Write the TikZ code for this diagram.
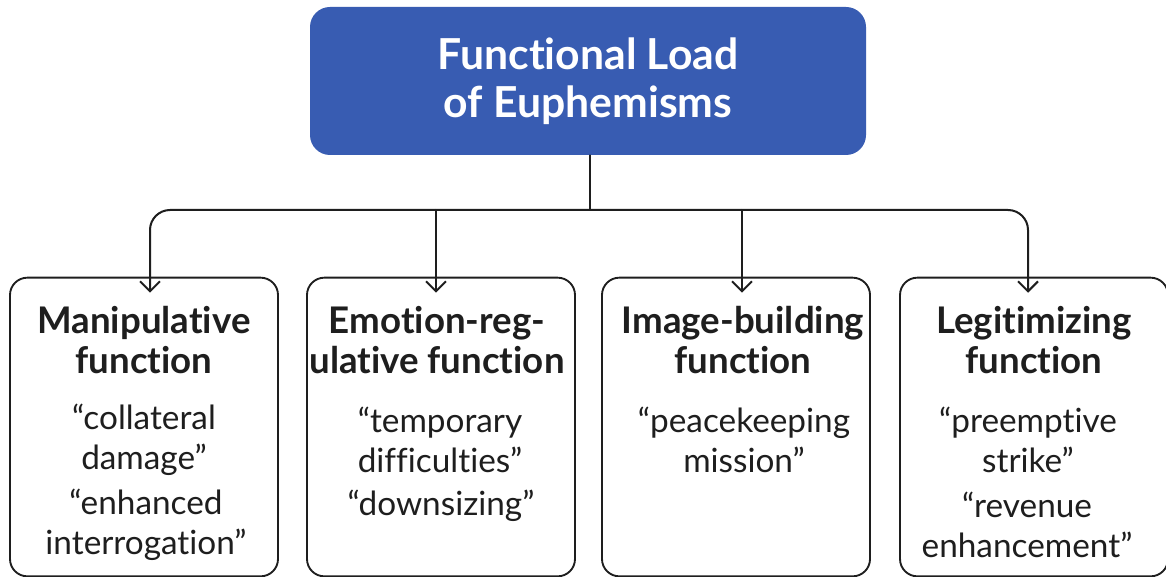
\documentclass[tikz,border=0pt]{standalone}
\usepackage{fontspec}
\setmainfont{Lato}[Ligatures=NoCommon]
\usetikzlibrary{arrows.meta,positioning}
\definecolor{titleblue}{RGB}{56,92,178}
\definecolor{inkgray}{RGB}{30,30,30}

\begin{document}
\begin{tikzpicture}[x=0.75pt,y=-0.75pt,
  >={Straight Barb[length=7.5pt,width=15pt,line width=1.5pt]},
  line cap=round,
  wire/.style={draw=inkgray,line width=1.5pt},
  titlebox/.style={fill=titleblue,rounded corners=15pt,minimum width=417pt,minimum height=111pt,inner sep=0pt},
  funcbox/.style={draw=inkgray,line width=1.4pt,rounded corners=13pt,minimum width=201pt,minimum height=224pt,inner sep=0pt},
  headtxt/.style={font=\fontsize{27.5}{30}\selectfont\bfseries,text=inkgray,align=center,inner sep=0pt},
  exampletxt/.style={font=\fontsize{25}{30}\selectfont,text=inkgray,align=center,inner sep=0pt}]
\useasboundingbox[fill=white] (0,0) rectangle (1166,577);

\node[titlebox] (title) at (588,81) {};
\node[text=white,font=\fontsize{32}{36}\selectfont\bfseries,align=center] (titletxt) at (title.center) {Functional Load\\of Euphemisms};

\node[funcbox] (f1) at (144,427) {};
\node[funcbox] (f2) at (441,427) {};
\node[funcbox] (f3) at (736,427) {};
\node[funcbox] (f4) at (1034,427) {};

\node[headtxt] (h1) at (144,340) {Manipulative\\function};
\node[headtxt] (h2) at (437,340) {Emotion-reg-\\ulative function};
\node[headtxt] (h3) at (743,340) {Image-building\\function};
\node[headtxt] (h4) at (1034,340) {Legitimizing\\function};

\node[exampletxt] (e1a) at (144,440) {“collateral\\damage”};
\node[exampletxt] (e1b) at (146,525) {“enhanced\\interrogation”};
\node[exampletxt] (e2a) at (440,440) {“temporary\\difficulties”};
\node[exampletxt] (e2b) at (441,506) {“downsizing”};
\node[exampletxt] (e3a) at (744,440) {“peacekeeping\\mission”};
\node[exampletxt] (e4a) at (1028,440) {“preemptive\\strike”};
\node[exampletxt] (e4b) at (1027,525) {“revenue\\enhancement”};

% bus line under the title
\coordinate (bus) at (590,210);
\draw[wire] (title.south -| bus) -- (bus);
\draw[wire,->,rounded corners=15pt] (bus) -| ([yshift=-12]f1.north -| 150,0);
\draw[wire,->,rounded corners=15pt] (bus) -| ([yshift=-12]f4.north -| 1028,0);
\draw[wire,->] (bus -| 436,0) -- ([yshift=-12]f2.north -| 436,0);
\draw[wire,->] (bus -| 742,0) -- ([yshift=-12]f3.north -| 742,0);
\end{tikzpicture}
\end{document}
